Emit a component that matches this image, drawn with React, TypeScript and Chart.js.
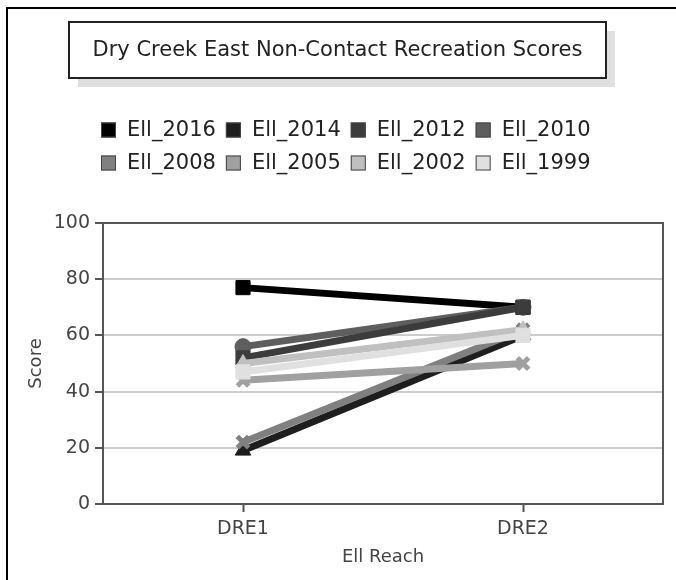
import React, { useEffect, useRef } from "react";
import { Chart, registerables } from "chart.js";

Chart.register(...registerables);

const chartTitle = "Dry Creek East Non-Contact Recreation Scores";
const categories = ["DRE1", "DRE2"];
const seriesNames = ["Ell_2016", "Ell_2014", "Ell_2012", "Ell_2010", "Ell_2008", "Ell_2005", "Ell_2002", "Ell_1999"];
const ell2016 = [77, 70];
const ell2014 = [19, 60];
const ell2012 = [52, 70];
const ell2010 = [56, 70];
const ell2008 = [22, 62];
const ell2005 = [44, 50];
const ell2002 = [50, 62];
const ell1999 = [47, 60];
const seriesValues = [ell2016, ell2014, ell2012, ell2010, ell2008, ell2005, ell2002, ell1999];
const seriesColors = ["#000000", "#1e1e1e", "#3c3c3c", "#5e5e5e", "#808080", "#a0a0a0", "#c0c0c0", "#e0e0e0"];
const pointStyles = ["rect", "triangle", "rect", "circle", "crossRot", "crossRot", "triangle", "rect"];
const pointRadii = [10, 9, 10, 8, 8, 8, 9, 10];
// drawing weight: higher is drawn first (underneath)
const drawOrder = [7, 6, 4, 5, 3, 2, 1, 0];
const yTicks = [0, 20, 40, 60, 80, 100];

const FONT = "'DejaVu Sans', sans-serif";

const decorPlugin = {
  id: "decor",
  beforeDraw(chart: any) {
    const ctx = chart.ctx;
    ctx.save();
    ctx.fillStyle = "#ffffff";
    ctx.fillRect(0, 0, chart.width, chart.height);
    ctx.restore();
  },
  afterDatasetsDraw(chart: any) {
    const { ctx, chartArea } = chart;
    ctx.save();
    ctx.strokeStyle = "#555555";
    ctx.lineWidth = 2;
    ctx.strokeRect(chartArea.left, chartArea.top, chartArea.right - chartArea.left, chartArea.bottom - chartArea.top);
    ctx.restore();
  },
  afterDraw(chart: any) {
    const ctx = chart.ctx;
    ctx.save();
    // outer frame
    ctx.fillStyle = "#000000";
    ctx.fillRect(6, 7, 2, chart.height - 7);
    ctx.fillRect(6, 7, chart.width - 6, 2);
    // title box with shadow
    const bx = 69, by = 22, bw = 537, bh = 56;
    ctx.fillStyle = "#e0e0e0";
    ctx.fillRect(bx + 9, by + 9, bw, bh);
    ctx.fillStyle = "#ffffff";
    ctx.fillRect(bx, by, bw, bh);
    ctx.strokeStyle = "#222222";
    ctx.lineWidth = 2;
    ctx.strokeRect(bx, by, bw, bh);
    ctx.fillStyle = "#222222";
    ctx.font = "21px " + FONT;
    ctx.textAlign = "center";
    ctx.textBaseline = "middle";
    ctx.fillText(chartTitle, bx + bw / 2, by + bh / 2 + 1);
    // legend
    ctx.font = "21px " + FONT;
    ctx.textAlign = "left";
    const rows = [130, 163];
    for (let r = 0; r < 2; r++) {
      let x = 101;
      for (let c = 0; c < 4; c++) {
        const i = r * 4 + c;
        const y = rows[r];
        ctx.fillStyle = seriesColors[i];
        ctx.fillRect(x, y - 7.5, 15, 15);
        ctx.strokeStyle = "#444444";
        ctx.lineWidth = 1;
        ctx.strokeRect(x + 0.5, y - 7, 14, 14);
        ctx.fillStyle = "#222222";
        ctx.fillText(seriesNames[i], x + 26, y + 1);
        x += 26 + ctx.measureText(seriesNames[i]).width + 10;
      }
    }
    ctx.restore();
  },
};

export default function App() {
  const canvasRef = useRef<HTMLCanvasElement | null>(null);

  useEffect(() => {
    if (!canvasRef.current) return;
    const datasets = seriesNames.map((name, i) => ({
      label: name,
      data: seriesValues[i],
      borderColor: seriesColors[i],
      backgroundColor: seriesColors[i],
      pointBackgroundColor: seriesColors[i],
      pointBorderColor: seriesColors[i],
      borderWidth: 7,
      pointStyle: pointStyles[i],
      pointRadius: pointRadii[i],
      pointBorderWidth: pointStyles[i] === "crossRot" ? 5 : 1,
      order: drawOrder[i],
      tension: 0,
    }));
    const chart = new Chart(canvasRef.current, {
      type: "line",
      data: { labels: categories, datasets },
      plugins: [decorPlugin],
      options: {
        responsive: false,
        animation: false,
        layout: { padding: { left: 8, right: 12, top: 223, bottom: 0 } },
        plugins: {
          legend: { display: false },
          title: { display: false },
          tooltip: { enabled: false },
        },
        scales: {
          x: {
            type: "category",
            offset: true,
            grid: { drawOnChartArea: false, tickColor: "#555555", tickLength: 8, tickWidth: 2 },
            border: { color: "#555555", width: 2 },
            ticks: { color: "#444444", font: { family: FONT, size: 19 }, padding: 6 },
            title: { display: true, text: "Ell Reach", color: "#444444", font: { family: FONT, size: 18 }, padding: { top: 0, bottom: 12 } },
            afterFit: (scale: any) => { scale.height = 76; },
          },
          y: {
            min: 0,
            max: 100,
            afterBuildTicks: (scale: any) => { scale.ticks = yTicks.map((v) => ({ value: v })); },
            grid: {
              color: (c: any) => (c.tick && (c.tick.value === 0 || c.tick.value === 100) ? "rgba(0,0,0,0)" : "#cccccc"),
              lineWidth: 2,
              tickColor: "#555555",
              tickLength: 8,
              tickWidth: 2,
            },
            border: { color: "#555555", width: 2 },
            ticks: { color: "#444444", font: { family: FONT, size: 19 }, padding: 5 },
            title: { display: true, text: "Score", color: "#444444", font: { family: FONT, size: 18 }, padding: { top: 18, bottom: 0 } },
            afterFit: (scale: any) => { scale.width = 95; },
          },
        },
      },
    });
    return () => chart.destroy();
  }, []);

  return (
    <div style={{ position: "fixed", left: 0, top: 0, width: 676, height: 580, background: "#fff" }}>
      <canvas ref={canvasRef} width={676} height={580} style={{ display: "block", width: 676, height: 580 }} />
    </div>
  );
}
